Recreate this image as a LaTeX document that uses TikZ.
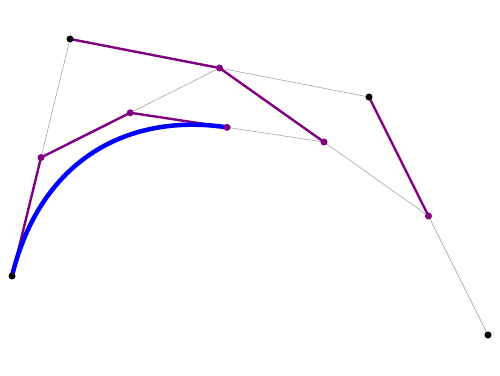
\documentclass[tikz,border=0pt]{standalone}
\usetikzlibrary{calc}
\definecolor{pp}{HTML}{800080}
\begin{document}
\begin{tikzpicture}[x=1pt,y=-1pt,
  grayline/.style={draw=gray!80,line width=0.5pt},
  purpleline/.style={draw=pp,line width=2.4pt},
  curveline/.style={draw=blue,line width=4.5pt},
  bdot/.style={circle,fill=black,inner sep=0pt,minimum size=7pt},
  pdot/.style={circle,fill=pp,inner sep=0pt,minimum size=7pt}]
\useasboundingbox (0,0) rectangle (500,375);
\coordinate (P0) at (12,276);
\coordinate (P1) at (70,39);
\coordinate (P2) at (369,97);
\coordinate (P3) at (488,335);
\coordinate (Q0) at ($(P0)!0.5!(P1)$);
\coordinate (Q1) at ($(P1)!0.5!(P2)$);
\coordinate (Q2) at ($(P2)!0.5!(P3)$);
\coordinate (R0) at ($(Q0)!0.5!(Q1)$);
\coordinate (R1) at ($(Q1)!0.5!(Q2)$);
\coordinate (S) at ($(R0)!0.5!(R1)$);
% full segments
\draw[grayline] (P0) -- (P1) -- (P2) -- (P3);
\draw[grayline] (Q0) -- (Q1) -- (Q2);
\draw[grayline] (R0) -- (R1);
% first halves
\draw[purpleline] (P0) -- (Q0);
\draw[purpleline] (P1) -- (Q1);
\draw[purpleline] (P2) -- (Q2);
\draw[purpleline] (Q0) -- (R0);
\draw[purpleline] (Q1) -- (R1);
\draw[purpleline] (R0) -- (S);
% curve
\draw[curveline] (P0) .. controls (Q0) and (R0) .. (S);
% dots
\foreach \p in {P0,P1,P2,P3} \node[bdot] (d\p) at (\p) {};
\foreach \p in {Q0,Q1,Q2,R0,R1,S} \node[pdot] (d\p) at (\p) {};
\end{tikzpicture}
\end{document}
